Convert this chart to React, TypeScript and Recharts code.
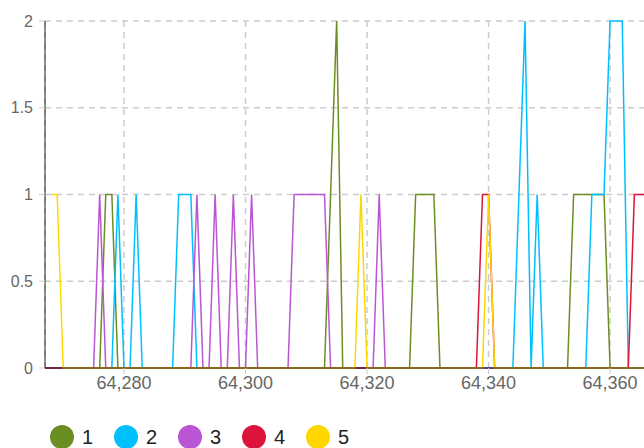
import React from "react";
import {
  LineChart,
  Line,
  XAxis,
  YAxis,
  CartesianGrid,
  Legend,
} from "recharts";

// first x value; each array entry below is one step of 1
const xStart = 64267;

// series values, rows of 10 (64267-64276, 64277-64286, ...)
const series1 = [
  0, 0, 0, 0, 0, 0, 0, 0, 0, 0,
  1, 1, 0, 0, 0, 0, 0, 0, 0, 0,
  0, 0, 0, 0, 0, 0, 0, 0, 0, 0,
  0, 0, 0, 0, 0, 0, 0, 0, 0, 0,
  0, 0, 0, 0, 0, 0, 0, 1, 2, 0,
  0, 0, 0, 0, 0, 0, 0, 0, 0, 0,
  0, 1, 1, 1, 1, 0, 0, 0, 0, 0,
  0, 0, 0, 0, 0, 0, 0, 0, 0, 0,
  0, 0, 0, 0, 0, 0, 0, 1, 1, 1,
  1, 1, 1, 0, 0, 0, 0, 0, 0, 0,
  0, 0, 0, 0, 0, 0,
];

const series2 = [
  0, 0, 0, 0, 0, 0, 0, 0, 0, 0,
  0, 0, 1, 0, 0, 1, 0, 0, 0, 0,
  0, 0, 1, 1, 1, 0, 0, 0, 0, 0,
  0, 0, 0, 0, 0, 0, 0, 0, 0, 0,
  0, 0, 0, 0, 0, 0, 0, 0, 0, 0,
  0, 0, 0, 0, 0, 0, 0, 0, 0, 0,
  0, 0, 0, 0, 0, 0, 0, 0, 0, 0,
  0, 0, 0, 0, 0, 0, 0, 0, 1, 2,
  0, 1, 0, 0, 0, 0, 0, 0, 0, 0,
  1, 1, 1, 2, 2, 2, 0, 0, 0, 0,
  0, 0, 0, 0, 0, 0,
];

const series3 = [
  0, 0, 0, 0, 0, 0, 0, 0, 0, 1,
  0, 0, 0, 0, 0, 0, 0, 0, 0, 0,
  0, 0, 0, 0, 0, 1, 0, 0, 1, 0,
  0, 1, 0, 0, 1, 0, 0, 0, 0, 0,
  0, 1, 1, 1, 1, 1, 1, 0, 0, 0,
  0, 0, 0, 0, 0, 1, 0, 0, 0, 0,
  0, 0, 0, 0, 0, 0, 0, 0, 0, 0,
  0, 0, 0, 0, 0, 0, 0, 0, 0, 0,
  0, 0, 0, 0, 0, 0, 0, 0, 0, 0,
  0, 0, 0, 0, 0, 0, 0, 0, 0, 0,
  0, 0, 0, 0, 0, 0,
];

const series4 = [
  0, 0, 0, 0, 0, 0, 0, 0, 0, 0,
  0, 0, 0, 0, 0, 0, 0, 0, 0, 0,
  0, 0, 0, 0, 0, 0, 0, 0, 0, 0,
  0, 0, 0, 0, 0, 0, 0, 0, 0, 0,
  0, 0, 0, 0, 0, 0, 0, 0, 0, 0,
  0, 0, 0, 0, 0, 0, 0, 0, 0, 0,
  0, 0, 0, 0, 0, 0, 0, 0, 0, 0,
  0, 0, 1, 1, 0, 0, 0, 0, 0, 0,
  0, 0, 0, 0, 0, 0, 0, 0, 0, 0,
  0, 0, 0, 0, 0, 0, 0, 1, 1, 1,
  1, 0, 0, 0, 0, 0,
];

const series5 = [
  null, 1, 1, 0, 0, 0, 0, 0, 0, 0,
  0, 0, 0, 0, 0, 0, 0, 0, 0, 0,
  0, 0, 0, 0, 0, 0, 0, 0, 0, 0,
  0, 0, 0, 0, 0, 0, 0, 0, 0, 0,
  0, 0, 0, 0, 0, 0, 0, 0, 0, 0,
  0, 0, 1, 0, 0, 0, 0, 0, 0, 0,
  0, 0, 0, 0, 0, 0, 0, 0, 0, 0,
  0, 0, 0, 1, 0, 0, 0, 0, 0, 0,
  0, 0, 0, 0, 0, 0, 0, 0, 0, 0,
  0, 0, 0, 0, 0, 0, 0, 0, 0, 0,
  0, 0, 0, 0, 0, 0,
];

const seriesNames = ["1", "2", "3", "4", "5"];
const seriesColors = ["#6b8e23", "#00bfff", "#ba55d3", "#dc143c", "#ffd700"];
const allSeries = [series1, series2, series3, series4, series5];

const xTicks = [64280, 64300, 64320, 64340, 64360];
const yTicks = [0, 0.5, 1, 1.5, 2];

const data = series1.map((_, i) => {
  const row: Record<string, number | null> = { x: xStart + i };
  allSeries.forEach((s, k) => {
    row["s" + (k + 1)] = s[i];
  });
  return row;
});

function LegendContent() {
  return (
    <div
      style={{
        display: "flex",
        alignItems: "center",
        height: 30,
        paddingLeft: 42,
        fontSize: 20,
        color: "#222",
      }}
    >
      {seriesNames.map((name, k) => (
        <div
          key={name}
          style={{ display: "flex", alignItems: "center", width: 64 }}
        >
          <span
            style={{
              display: "inline-block",
              width: 24,
              height: 24,
              borderRadius: 12,
              background: seriesColors[k],
            }}
          />
          <span style={{ marginLeft: 8 }}>{name}</span>
        </div>
      ))}
    </div>
  );
}

export default function App() {
  return (
    <div
      style={{
        position: "absolute",
        left: 8,
        top: 8,
        width: 636,
        height: 440,
        overflow: "hidden",
        fontFamily: "'Liberation Sans', Arial, sans-serif",
      }}
    >
      <style>{"html { overflow: hidden; }"}</style>
      <LineChart
        width={700}
        height={444}
        data={data}
        margin={{ top: 13, right: 25, left: 0, bottom: 0 }}
      >
        <CartesianGrid
          stroke="#ccc"
          strokeDasharray="6 5"
          strokeWidth={1.5}
        />
        {allSeries.map((_, k) => (
          <Line
            key={k}
            type="linear"
            dataKey={"s" + (k + 1)}
            name={seriesNames[k]}
            stroke={seriesColors[k]}
            strokeWidth={1.5}
            dot={false}
            activeDot={false}
            connectNulls={false}
            isAnimationActive={false}
          />
        ))}
        <XAxis
          dataKey="x"
          type="number"
          domain={[xStart, xStart + series1.length - 1]}
          ticks={xTicks}
          tickFormatter={(v: number) => v.toLocaleString("en-US")}
          height={54}
          tick={{ fontSize: 18, fill: "#666" }}
          tickLine={{ stroke: "#ccc" }}
          axisLine={{ stroke: "#222" }}
        />
        <YAxis
          domain={[0, 2]}
          ticks={yTicks}
          width={37}
          tickMargin={6}
          tick={{ fontSize: 16, fill: "#666" }}
          tickLine={{ stroke: "#ccc" }}
          axisLine={{ stroke: "#222" }}
        />
        <Legend verticalAlign="bottom" content={<LegendContent />} />
      </LineChart>
    </div>
  );
}
